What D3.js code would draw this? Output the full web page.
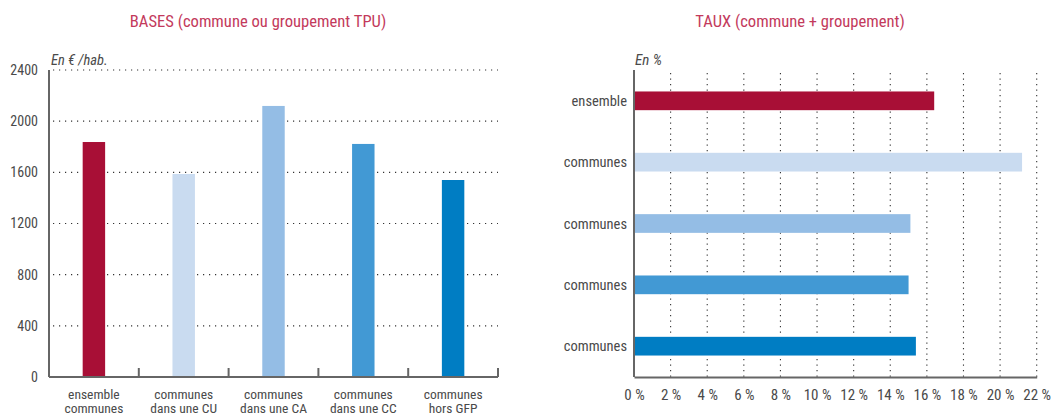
<!DOCTYPE html>
<html>
<head>
<meta charset="utf-8">
<script src="https://cdn.jsdelivr.net/npm/d3@7/dist/d3.min.js"></script>
<style>
  html, body { margin: 0; padding: 0; background: #fff; }
  svg { display: block; }
  text { font-family: "Roboto", "Liberation Sans", sans-serif; font-stretch: condensed; fill: #4a4a4a; }
</style>
</head>
<body>
<svg id="chart" width="1062" height="416"></svg>
<script>
// Bases per inhabitant (€) by commune type
const baseCategories = [["ensemble", "communes"], ["communes", "dans une CU"], ["communes", "dans une CA"], ["communes", "dans une CC"], ["communes", "hors GFP"]];
const baseValues = [1837, 1587, 2119, 1822, 1540];
const baseTicks = [0, 400, 800, 1200, 1600, 2000, 2400];

// Tax rates (commune + groupement), %
const rateCategories = ["ensemble", "communes", "communes", "communes", "communes"];
const rateValues = [16.4, 21.2, 15.1, 15.0, 15.4];
const rateTicks = [0, 2, 4, 6, 8, 10, 12, 14, 16, 18, 20, 22];

const colors = ["#a80f36", "#c9dbf0", "#94bde5", "#4299d4", "#007dc3"];
const titleColor = "#c33a5c";
const axisColor = "#666";

const svg = d3.select("#chart");

// ---------- Left: vertical bars ----------
const L = { left: 49, right: 498, top: 70, bottom: 377 };
const xB = d3.scaleBand().domain(d3.range(baseValues.length)).range([L.left, L.right]).paddingInner(0.75).paddingOuter(0.375);
const xBands = d3.scaleBand().domain(d3.range(baseValues.length)).range([L.left, L.right]);
const yB = d3.scaleLinear().domain([0, 2400]).range([L.bottom, L.top]);

const gL = svg.append("g");

gL.append("text").attr("x", 258).attr("y", 27)
  .attr("text-anchor", "middle").style("fill", titleColor).style("font-size", "16.6px")
  .text("BASES (commune ou groupement TPU)");

gL.append("text").attr("x", 51).attr("y", 65).style("font-style", "italic").style("font-size", "14.5px")
  .text("En € /hab.");

// dotted gridlines
gL.append("g").selectAll("line").data(baseTicks.filter(d => d > 0)).join("line")
  .attr("x1", L.left + 4).attr("x2", L.right)
  .attr("y1", d => yB(d)).attr("y2", d => yB(d))
  .attr("stroke", "#333").attr("stroke-width", 1.1).attr("stroke-dasharray", "1.2 4.8");

// bars
gL.append("g").selectAll("rect").data(baseValues).join("rect")
  .attr("x", (d, i) => xB(i)).attr("width", xB.bandwidth())
  .attr("y", d => yB(d)).attr("height", d => yB(0) - yB(d))
  .attr("fill", (d, i) => colors[i]);

// y axis
const yAxisL = gL.append("g").attr("transform", `translate(${L.left},0)`)
  .call(d3.axisLeft(yB).tickValues(baseTicks).tickSize(0).tickPadding(11).tickFormat(d3.format("d")));
yAxisL.select(".domain").attr("stroke", axisColor).attr("stroke-width", 2).attr("d", `M0,${L.top}V${L.bottom}`);
yAxisL.selectAll("text").style("font-size", "14px").style("fill", "#4a4a4a").attr("font-family", null);

// x axis with upward ticks at band boundaries
const xAxisL = gL.append("g").attr("transform", `translate(0,${L.bottom})`);
xAxisL.append("line").attr("x1", L.left).attr("x2", L.right).attr("stroke", axisColor).attr("stroke-width", 2);
xAxisL.selectAll("line.tk").data(d3.range(1, baseValues.length + 1)).join("line").attr("class", "tk")
  .attr("x1", i => xBands(0) + i * xBands.step()).attr("x2", i => xBands(0) + i * xBands.step())
  .attr("y1", 0).attr("y2", -9).attr("stroke", axisColor).attr("stroke-width", 2);
const lbl = xAxisL.selectAll("text").data(baseCategories).join("text")
  .attr("text-anchor", "middle").style("font-size", "13.5px")
  .attr("x", (d, i) => xBands(i) + xBands.bandwidth() / 2);
lbl.append("tspan").attr("x", (d, i) => xBands(i) + xBands.bandwidth() / 2).attr("y", 22).text(d => d[0]);
lbl.append("tspan").attr("x", (d, i) => xBands(i) + xBands.bandwidth() / 2).attr("y", 36).text(d => d[1]);

// ---------- Right: horizontal bars ----------
const R = { left: 634, right: 1036.7, top: 70, bottom: 377 };
const xR = d3.scaleLinear().domain([0, 22]).range([R.left, R.right]);
const yR = d3.scaleBand().domain(d3.range(rateValues.length)).range([R.top, R.bottom]).paddingInner(0.695).paddingOuter(0.35);

const gR = svg.append("g");

gR.append("text").attr("x", 800).attr("y", 27)
  .attr("text-anchor", "middle").style("fill", titleColor).style("font-size", "16.6px")
  .text("TAUX (commune + groupement)");

gR.append("text").attr("x", 635).attr("y", 65).style("font-style", "italic").style("font-size", "15px")
  .text("En %");

// dotted vertical gridlines
gR.append("g").selectAll("line").data(rateTicks.filter(d => d > 0)).join("line")
  .attr("x1", d => xR(d)).attr("x2", d => xR(d))
  .attr("y1", R.top + 3).attr("y2", R.bottom)
  .attr("stroke", "#333").attr("stroke-width", 1.1).attr("stroke-dasharray", "1.2 4.3");

// bars
gR.append("g").selectAll("rect").data(rateValues).join("rect")
  .attr("x", R.left).attr("width", d => xR(d) - xR(0))
  .attr("y", (d, i) => yR(i)).attr("height", yR.bandwidth())
  .attr("fill", (d, i) => colors[i]);

// y axis labels
const yAxisR = gR.append("g").attr("transform", `translate(${R.left},0)`);
yAxisR.append("line").attr("y1", R.top).attr("y2", R.bottom).attr("stroke", axisColor).attr("stroke-width", 2);
yAxisR.selectAll("text").data(rateCategories).join("text")
  .attr("x", -7).attr("y", (d, i) => yR(i) + yR.bandwidth() / 2).attr("dy", "0.35em")
  .attr("text-anchor", "end").style("font-size", "14.5px").text(d => d);

// x axis
const xAxisR = gR.append("g").attr("transform", `translate(0,${R.bottom})`)
  .call(d3.axisBottom(xR).tickValues(rateTicks).tickSize(0).tickPadding(12).tickFormat(d => d + " %"));
xAxisR.select(".domain").attr("stroke", axisColor).attr("stroke-width", 2);
xAxisR.selectAll("text").style("font-size", "15px").style("fill", "#4a4a4a").attr("font-family", null);
</script>
</body>
</html>
